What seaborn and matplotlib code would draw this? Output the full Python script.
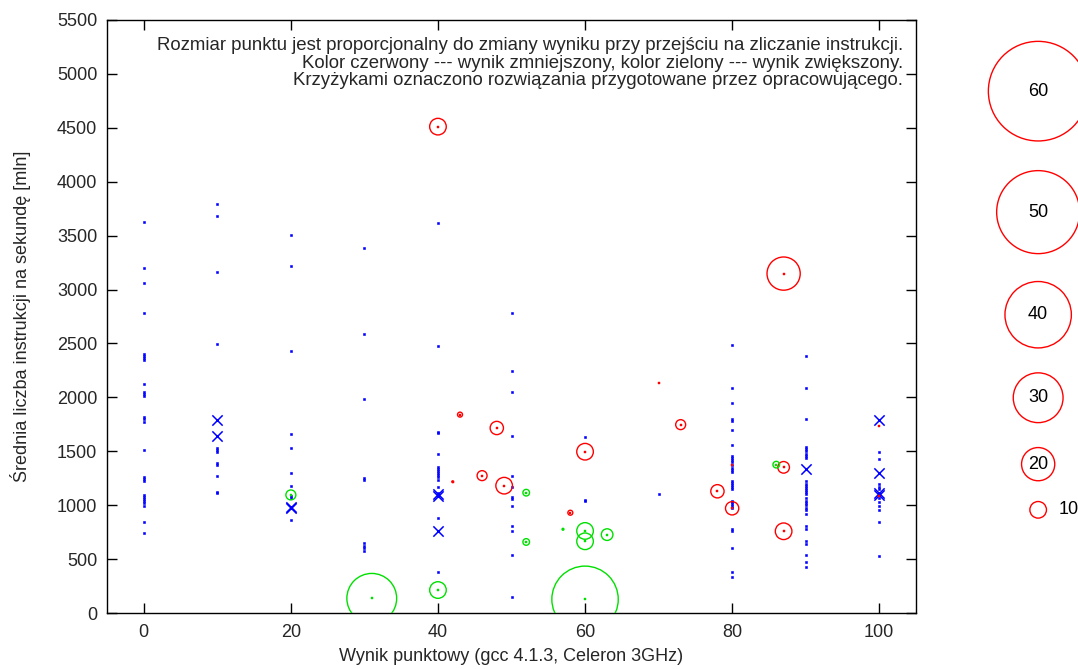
import matplotlib
matplotlib.use("Agg")
import matplotlib.pyplot as plt
import seaborn as sns
import pandas as pd
import numpy as np

# ---------------- data ----------------
# regular solutions (blue dots): score -> list of mean instructions/s [mln]
dots_0 = [3627, 3197, 3061, 2786, 2400, 2384, 2365, 2350, 2121, 2053, 2034, 2016, 1818, 1797,
          1775, 1509, 1265, 1246, 1227, 1095, 1079, 1060, 1039, 1018, 995, 844, 742]
dots_10 = [3791, 3680, 3166, 2495, 1639, 1528, 1512, 1496, 1391, 1370, 1274, 1125, 1110]
dots_20 = [3510, 3222, 2430, 1663, 1528, 1299, 1181, 1088, 1070, 863]
dots_30 = [3389, 2585, 1988, 1249, 1234, 647, 625, 600, 578]
dots_40 = [3621, 2480, 1682, 1670, 1478, 1357, 1339, 1320, 1302, 1280, 1259, 1234, 1172,
           1110, 1090, 884, 380]
dots_50 = [2780, 2242, 2050, 1642, 1274, 1169, 1079, 1060, 995, 810, 763, 541, 151]
dots_60 = [1633, 1048, 1039]
dots_70 = [1107]
dots_80 = [2486, 2084, 1951, 1800, 1784, 1701, 1558, 1456, 1441, 1422, 1404, 1373, 1348, 1327,
           1305, 1227, 1209, 1190, 1172, 1153, 1042, 1027, 1011, 993, 977, 779, 761, 606, 383, 337]
dots_90 = [2384, 2084, 1800, 1543, 1521, 1500, 1478, 1456, 1435, 1333, 1221, 1197, 1176, 1157,
           1141, 1120, 1101, 1064, 1042, 1020, 999, 977, 955, 921, 804, 779, 668, 643, 538, 476, 424]
dots_100 = [1497, 1429, 1197, 1172, 1153, 1064, 1033, 993, 953, 847, 532]
dot_columns = {0: dots_0, 10: dots_10, 20: dots_20, 30: dots_30, 40: dots_40, 50: dots_50,
               60: dots_60, 70: dots_70, 80: dots_80, 90: dots_90, 100: dots_100}

# author's solutions (blue crosses)
cross_score = [10, 10, 20, 20, 40, 40, 40, 90, 100, 100, 100, 100]
cross_ips = [1787, 1639, 985, 970, 1100, 1086, 761, 1333, 1790, 1296, 1110, 1095]

# score decreased (red): score, ips, size of change
red_score = [40, 43, 42, 46, 48, 49, 58, 60, 70, 73, 78, 80, 80, 87, 87, 87, 100, 100]
red_ips = [4511, 1840, 1218, 1274, 1716, 1181, 930, 1496, 2131, 1747, 1129, 971, 1373, 3148,
           1351, 758, 1738, 1088]
red_change = [10, 3, 1, 6, 8, 10, 3, 10, 0, 6, 8, 8, 0, 20, 7, 10, 0, 0]

# score increased (green)
green_score = [20, 31, 40, 52, 52, 57, 60, 60, 63, 60, 86]
green_ips = [1095, 136, 213, 1116, 659, 776, 761, 665, 727, 127, 1376]
green_change = [6, 30, 10, 4, 4, 1, 10, 10, 7, 40, 4]

# size key
key_values = [60, 50, 40, 30, 20, 10]

x_ticks = [0, 20, 40, 60, 80, 100]
y_ticks = list(range(0, 5501, 500))

xlabel = "Wynik punktowy (gcc 4.1.3, Celeron 3GHz)"
ylabel = "Średnia liczba instrukcji na sekundę [mln]"
note = ("Rozmiar punktu jest proporcjonalny do zmiany wyniku przy przejściu na zliczanie instrukcji.\n"
        "Kolor czerwony --- wynik zmniejszony, kolor zielony --- wynik zwiększony.\n"
        "Krzyżykami oznaczono rozwiązania przygotowane przez opracowującego.")

# ---------------- plotting ----------------
sns.set_style("ticks")
plt.rcParams["font.family"] = ["Liberation Sans", "DejaVu Sans"]
FS = 13

fig = plt.figure(figsize=(10.78, 6.69), dpi=100)
ax = fig.add_axes([107 / 1078, 56 / 669, 809 / 1078, 593 / 669])

blue_df = pd.DataFrame({
    "score": [s for s, vals in dot_columns.items() for _ in vals],
    "ips": [v for vals in dot_columns.values() for v in vals],
})
cross_df = pd.DataFrame({"score": cross_score, "ips": cross_ips})
red_df = pd.DataFrame({"score": red_score, "ips": red_ips, "change": red_change})
green_df = pd.DataFrame({"score": green_score, "ips": green_ips, "change": green_change})


def size_map(values):
    # radius in pixels ~0.83 * change  ->  marker area in pt^2
    return {v: (2 * 0.83 * v * 72 / 100) ** 2 for v in sorted(set(values))}


BLUE = "#0000ff"
RED = "#ff0000"
GREEN = "#00e000"

sns.scatterplot(data=blue_df, x="score", y="ips", ax=ax, marker="s", s=3,
                color=BLUE, edgecolor=BLUE, linewidth=0.4, legend=False, zorder=3)
sns.scatterplot(data=cross_df, x="score", y="ips", ax=ax, marker="x", s=55,
                color=BLUE, linewidth=1.1, legend=False, zorder=4)

for df, col in [(red_df, RED), (green_df, GREEN)]:
    sns.scatterplot(data=df, x="score", y="ips", size="change", sizes=size_map(df["change"]),
                    ax=ax, color=col, facecolor="none", edgecolor=col, linewidth=1.0,
                    legend=False, zorder=5)
    sns.scatterplot(data=df, x="score", y="ips", ax=ax, marker="s", s=3,
                    color=col, edgecolor=col, linewidth=0.3, legend=False, zorder=6)

# size key outside the axes (right side)
key_y = [0.880, 0.676, 0.503, 0.363, 0.251, 0.174]
key_df = pd.DataFrame({"kx": [1.151] * len(key_values), "ky": key_y, "change": key_values})
sns.scatterplot(data=key_df, x="kx", y="ky", size="change", sizes=size_map(key_values),
                ax=ax, color=RED, facecolor="none", edgecolor=RED, linewidth=1.0,
                legend=False, transform=ax.transAxes, clip_on=False, zorder=5)
for v, ky in zip(key_values, key_y):
    if v > 10:
        ax.text(1.151, ky, str(v), transform=ax.transAxes, ha="center", va="center",
                fontsize=FS, color="black")
    else:
        ax.text(1.176, ky, str(v), transform=ax.transAxes, ha="left", va="center",
                fontsize=FS, color="black")

ax.set_xlim(-5, 105)
ax.set_ylim(0, 5500)
ax.set_xticks(x_ticks)
ax.set_yticks(y_ticks)
ax.tick_params(direction="in", top=True, right=True, length=7, width=1, color="black",
               labelsize=FS, pad=7)
ax.tick_params(axis="x", pad=8)
for sp in ax.spines.values():
    sp.set_visible(True)
    sp.set_linewidth(1.0)
    sp.set_color("black")

ax.set_xlabel(xlabel, fontsize=FS, labelpad=5)
ax.set_ylabel(ylabel, fontsize=FS, labelpad=19)

ax.text(0.984, 0.972, note, transform=ax.transAxes, ha="right", va="top",
        multialignment="right", fontsize=13.4, linespacing=1.07, zorder=10)

fig.savefig("out.png", dpi=100)
